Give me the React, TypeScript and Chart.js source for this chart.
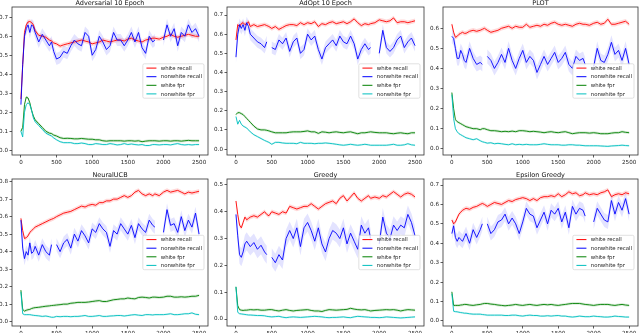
import React, { useEffect, useRef } from 'react';
import { Chart, registerables } from 'chart.js';
Chart.register(...registerables);

// ---------- data ----------
const STEPS = [0, 25, 50, 75, 100, 125, 150, 175, 200,
  250, 300, 350, 400, 430, 460,
  500, 550, 600, 650, 700, 750, 800, 850, 900, 950,
  1000, 1050, 1100, 1150, 1200, 1250, 1300, 1350, 1400, 1450,
  1500, 1550, 1600, 1650, 1700, 1750, 1800, 1850,
  1880, 1940,
  2000, 2050, 2100, 2150, 2200, 2250, 2300, 2350, 2400, 2450, 2500];

const TITLES = ['Adversarial 10 Epoch', 'AdOpt 10 Epoch', 'PLOT', 'NeuralUCB', 'Greedy', 'Epsilon Greedy'];
const LEGEND_LABELS = ['white recall', 'nonwhite recall', 'white fpr', 'nonwhite fpr'];
const X_TICKS = [0, 500, 1000, 1500, 2000, 2500];
const Y_TICKS_ADV = [0, 0.1, 0.2, 0.3, 0.4, 0.5, 0.6, 0.7];
const Y_TICKS_ADOPT = [0, 0.1, 0.2, 0.3, 0.4, 0.5, 0.6, 0.7];
const Y_TICKS_PLOT = [0, 0.1, 0.2, 0.3, 0.4, 0.5, 0.6];
const Y_TICKS_NUCB = [0, 0.1, 0.2, 0.3, 0.4, 0.5, 0.6, 0.7, 0.8];
const Y_TICKS_GREEDY = [0, 0.1, 0.2, 0.3, 0.4, 0.5];
const Y_TICKS_EPS = [0, 0.1, 0.2, 0.3, 0.4, 0.5, 0.6, 0.7];
const Y_MIN = [-0.025, -0.031, -0.031, -0.025, -0.026, -0.026];
const Y_MAX = [0.754, 0.742, 0.706, 0.815, 0.522, 0.731];

// Adversarial 10 Epoch
const ADV_WR = [0.27, 0.45, 0.62, 0.66, 0.675, 0.678, 0.672, 0.66, 0.63,
  0.605, 0.60, 0.595, 0.58, 0.575, 0.565,
  0.56, 0.548, 0.555, 0.56, 0.565, 0.57, 0.575, 0.58, 0.575, 0.57,
  0.56, 0.565, 0.57, 0.58, 0.575, 0.57, 0.575, 0.58, 0.58, 0.575,
  0.585, 0.59, 0.58, 0.575, 0.57, 0.58, 0.585, 0.59,
  0.59, 0.585,
  0.595, 0.60, 0.61, 0.60, 0.595, 0.60, 0.605, 0.61, 0.605, 0.60, 0.60];
const ADV_NR = [0.24, 0.45, 0.60, 0.64, 0.66, 0.62, 0.66, 0.65, 0.62,
  0.57, 0.61, 0.58, 0.55, 0.57, 0.52,
  0.48, 0.49, 0.52, 0.51, 0.55, 0.58, 0.56, 0.55, 0.62, 0.60,
  0.50, 0.53, 0.60, 0.57, 0.53, 0.55, 0.62, 0.58, 0.58, 0.55,
  0.58, 0.62, 0.57, 0.62, 0.54, 0.51, 0.60, 0.57,
  0.58, null,
  0.58, 0.66, 0.60, 0.64, 0.55, 0.62, 0.60, 0.66, 0.62, 0.64, 0.60];
const ADV_WF = [0.10, 0.12, 0.24, 0.28, 0.275, 0.25, 0.21, 0.18, 0.16,
  0.14, 0.12, 0.10, 0.09, 0.088, 0.08,
  0.075, 0.066, 0.062, 0.063, 0.062, 0.06, 0.06, 0.062, 0.06, 0.058,
  0.058, 0.055, 0.055, 0.05, 0.048, 0.05, 0.05, 0.05, 0.05, 0.048,
  0.05, 0.05, 0.048, 0.05, 0.045, 0.048, 0.05, 0.05,
  0.05, 0.048,
  0.05, 0.05, 0.048, 0.05, 0.05, 0.048, 0.05, 0.052, 0.05, 0.05, 0.05];
const ADV_NF = [0.10, 0.07, 0.20, 0.24, 0.25, 0.24, 0.21, 0.17, 0.15,
  0.13, 0.11, 0.09, 0.08, 0.075, 0.065,
  0.055, 0.045, 0.04, 0.04, 0.04, 0.035, 0.035, 0.038, 0.035, 0.03,
  0.03, 0.035, 0.033, 0.03, 0.03, 0.035, 0.032, 0.028, 0.03, 0.035,
  0.03, 0.033, 0.03, 0.028, 0.03, 0.025, 0.025, 0.03,
  0.03, 0.028,
  0.03, 0.03, 0.028, 0.032, 0.035, 0.03, 0.028, 0.03, 0.028, 0.03, 0.03];

// AdOpt 10 Epoch
const ADOPT_WR = [0.57, 0.65, 0.64, 0.655, 0.66, 0.65, 0.655, 0.665, 0.64,
  0.65, 0.64, 0.645, 0.65, 0.645, 0.64,
  0.63, 0.64, 0.625, 0.635, 0.645, 0.65, 0.65, 0.645, 0.66, 0.65,
  0.66, 0.655, 0.665, 0.64, 0.655, 0.65, 0.66, 0.665, 0.655, 0.66,
  0.665, 0.655, 0.665, 0.68, 0.66, 0.645, 0.655, 0.65,
  0.655, 0.66,
  0.675, 0.67, 0.665, 0.67, 0.685, 0.66, 0.665, 0.665, 0.66, 0.665, 0.67];
const ADOPT_NR = [0.48, 0.60, 0.65, 0.63, 0.65, 0.62, 0.66, 0.64, 0.60,
  0.58, 0.56, 0.55, 0.53, 0.56, null,
  0.53, 0.52, 0.57, 0.55, 0.58, 0.51, 0.56, 0.58, 0.50, 0.52,
  0.60, 0.57, 0.59, 0.52, 0.47, 0.53, 0.55, 0.57, 0.54, 0.59,
  0.56, 0.55, 0.59, 0.55, 0.47, 0.52, 0.55, 0.52,
  0.53, null,
  0.50, 0.62, 0.53, 0.51, 0.53, 0.57, 0.59, 0.53, 0.56, 0.58, 0.54];
const ADOPT_WF = [0.18, 0.19, 0.19, 0.185, 0.18, 0.17, 0.16, 0.15, 0.14,
  0.12, 0.105, 0.10, 0.10, 0.098, 0.095,
  0.09, 0.085, 0.085, 0.085, 0.085, 0.088, 0.09, 0.09, 0.09, 0.092,
  0.095, 0.09, 0.09, 0.082, 0.09, 0.088, 0.085, 0.088, 0.09, 0.087,
  0.085, 0.088, 0.09, 0.085, 0.08, 0.085, 0.085, 0.088,
  0.09, 0.087,
  0.085, 0.085, 0.085, 0.082, 0.08, 0.083, 0.085, 0.082, 0.08, 0.085, 0.085];
const ADOPT_NF = [0.17, 0.13, 0.15, 0.13, 0.12, 0.115, 0.11, 0.10, 0.09,
  0.075, 0.065, 0.055, 0.045, 0.04, 0.035,
  0.025, 0.035, 0.035, 0.032, 0.03, 0.03, 0.03, 0.028, 0.035, 0.03,
  0.03, 0.03, 0.028, 0.03, 0.03, 0.032, 0.03, 0.028, 0.025, 0.022,
  0.02, 0.022, 0.025, 0.022, 0.02, 0.022, 0.025, 0.022,
  0.02, 0.02,
  0.02, 0.02, 0.02, 0.022, 0.025, 0.02, 0.02, 0.022, 0.028, 0.022, 0.02];

// PLOT
const PLOT_WR = [0.62, 0.58, 0.555, 0.56, 0.57, 0.575, 0.58, 0.575, 0.575,
  0.585, 0.59, 0.585, 0.59, 0.595, 0.60,
  0.59, 0.58, 0.585, 0.59, 0.60, 0.605, 0.61, 0.60, 0.61, 0.605,
  0.605, 0.62, 0.605, 0.61, 0.615, 0.61, 0.62, 0.615, 0.625, 0.63,
  0.62, 0.615, 0.62, 0.615, 0.61, 0.62, 0.625, 0.62,
  0.62, 0.615,
  0.625, 0.63, 0.62, 0.625, 0.645, 0.62, 0.62, 0.625, 0.63, 0.635, 0.62];
const PLOT_NR = [0.56, 0.55, 0.50, 0.45, 0.45, 0.49, 0.47, 0.44, 0.43,
  0.50, 0.45, 0.42, 0.43, 0.42, null,
  0.46, 0.44, 0.40, 0.43, 0.47, 0.43, 0.50, 0.44, 0.40, 0.45,
  0.49, 0.43, 0.46, 0.44, 0.38, 0.42, 0.46, 0.42, 0.45, 0.48,
  0.43, 0.45, 0.48, 0.42, 0.40, 0.46, 0.44, 0.45,
  0.42, null,
  0.41, 0.50, 0.44, 0.43, 0.47, 0.53, 0.47, 0.49, 0.44, 0.50, 0.42];
const PLOT_WF = [0.28, 0.20, 0.145, 0.135, 0.13, 0.125, 0.12, 0.115, 0.11,
  0.105, 0.10, 0.10, 0.095, 0.10, 0.10,
  0.095, 0.09, 0.09, 0.088, 0.085, 0.087, 0.085, 0.088, 0.085, 0.09,
  0.09, 0.088, 0.085, 0.087, 0.085, 0.083, 0.08, 0.083, 0.085, 0.082,
  0.08, 0.083, 0.085, 0.08, 0.075, 0.078, 0.08, 0.08,
  0.08, 0.078,
  0.08, 0.078, 0.075, 0.075, 0.075, 0.078, 0.08, 0.08, 0.085, 0.082, 0.08];
const PLOT_NF = [0.27, 0.15, 0.10, 0.085, 0.075, 0.07, 0.065, 0.06, 0.055,
  0.05, 0.045, 0.05, 0.04, 0.035, 0.032,
  0.028, 0.03, 0.025, 0.027, 0.025, 0.022, 0.02, 0.025, 0.02, 0.022,
  0.02, 0.022, 0.02, 0.02, 0.02, 0.022, 0.025, 0.022, 0.02, 0.02,
  0.02, 0.018, 0.018, 0.02, 0.02, 0.018, 0.018, 0.016,
  0.015, 0.015,
  0.015, 0.015, 0.014, 0.013, 0.012, 0.014, 0.015, 0.016, 0.018, 0.016, 0.015];

// NeuralUCB
const NUCB_WR = [0.59, 0.52, 0.475, 0.48, 0.49, 0.51, 0.52, 0.53, 0.54,
  0.55, 0.56, 0.57, 0.58, 0.585, 0.59,
  0.60, 0.61, 0.62, 0.625, 0.63, 0.64, 0.65, 0.66, 0.655, 0.665,
  0.67, 0.665, 0.68, 0.68, 0.69, 0.69, 0.70, 0.70, 0.71, 0.72,
  0.71, 0.72, 0.74, 0.75, 0.73, 0.72, 0.73, 0.72,
  0.73, 0.72,
  0.74, 0.75, 0.74, 0.745, 0.75, 0.74, 0.73, 0.74, 0.735, 0.74, 0.745];
const NUCB_NR = [0.58, 0.42, 0.36, 0.40, 0.38, 0.45, 0.39, 0.40, 0.43,
  0.38, 0.44, 0.40, 0.38, 0.44, null,
  0.44, 0.40, 0.45, 0.47, 0.42, 0.50, 0.46, 0.52, 0.49, 0.45,
  0.53, 0.51, 0.56, 0.53, 0.51, 0.43, 0.52, 0.50, 0.56, 0.53,
  0.50, 0.55, 0.48, 0.56, 0.53, 0.51, 0.58, 0.55,
  0.54, null,
  0.51, 0.64, 0.55, 0.56, 0.51, 0.60, 0.52, 0.58, 0.54, 0.62, 0.50];
const NUCB_WF = [0.18, 0.07, 0.06, 0.065, 0.068, 0.07, 0.075, 0.078, 0.08,
  0.082, 0.085, 0.088, 0.09, 0.092, 0.093,
  0.095, 0.097, 0.10, 0.10, 0.105, 0.107, 0.11, 0.11, 0.11, 0.112,
  0.115, 0.118, 0.12, 0.115, 0.115, 0.12, 0.125, 0.127, 0.13, 0.13,
  0.135, 0.132, 0.13, 0.138, 0.14, 0.138, 0.135, 0.14,
  0.14, 0.138,
  0.14, 0.145, 0.145, 0.14, 0.14, 0.142, 0.14, 0.142, 0.145, 0.145, 0.15];
const NUCB_NF = [0.17, 0.045, 0.04, 0.04, 0.04, 0.04, 0.038, 0.036, 0.035,
  0.033, 0.03, 0.032, 0.028, 0.025, 0.025,
  0.03, 0.028, 0.03, 0.03, 0.028, 0.03, 0.03, 0.032, 0.035, 0.03,
  0.03, 0.032, 0.035, 0.03, 0.03, 0.032, 0.033, 0.035, 0.035, 0.032,
  0.035, 0.038, 0.04, 0.037, 0.035, 0.04, 0.04, 0.038,
  0.04, 0.04,
  0.04, 0.042, 0.045, 0.04, 0.04, 0.042, 0.045, 0.045, 0.05, 0.042, 0.04];

// Greedy
const GREEDY_WR = [0.44, 0.39, 0.35, 0.34, 0.36, 0.38, 0.37, 0.375, 0.38,
  0.385, 0.38, 0.39, 0.40, 0.39, 0.385,
  0.40, 0.395, 0.39, 0.40, 0.395, 0.42, 0.415, 0.41, 0.415, 0.42,
  0.42, 0.43, 0.42, 0.41, 0.42, 0.43, 0.435, 0.44, 0.43, 0.45,
  0.46, 0.44, 0.455, 0.47, 0.45, 0.44, 0.45, 0.46,
  0.45, 0.455,
  0.45, 0.46, 0.455, 0.465, 0.475, 0.465, 0.455, 0.465, 0.47, 0.465, 0.455];
const GREEDY_NR = [0.39, 0.31, 0.24, 0.23, 0.25, 0.28, 0.29, 0.28, 0.27,
  0.285, 0.26, 0.275, 0.25, 0.24, null,
  0.23, 0.21, 0.24, 0.22, 0.30, 0.33, 0.30, 0.34, 0.27, 0.34,
  0.36, 0.33, 0.29, 0.34, 0.28, 0.25, 0.30, 0.33, 0.32, 0.30,
  0.34, 0.28, 0.32, 0.29, 0.26, 0.35, 0.32, 0.34,
  0.30, null,
  0.28, 0.38, 0.32, 0.30, 0.35, 0.33, 0.35, 0.34, 0.39, 0.36, 0.31];
const GREEDY_WF = [0.12, 0.05, 0.035, 0.033, 0.032, 0.033, 0.033, 0.034, 0.035,
  0.034, 0.035, 0.033, 0.033, 0.034, 0.035,
  0.035, 0.032, 0.03, 0.033, 0.035, 0.032, 0.03, 0.032, 0.033, 0.034,
  0.035, 0.032, 0.03, 0.03, 0.028, 0.032, 0.035, 0.034, 0.033, 0.034,
  0.035, 0.036, 0.04, 0.037, 0.035, 0.034, 0.035, 0.032,
  0.03, 0.032,
  0.033, 0.034, 0.035, 0.034, 0.035, 0.033, 0.03, 0.033, 0.035, 0.034, 0.033];
const GREEDY_NF = [0.12, 0.025, 0.02, 0.019, 0.018, 0.017, 0.016, 0.015, 0.015,
  0.014, 0.013, 0.013, 0.012, 0.01, 0.009,
  0.008, 0.009, 0.01, 0.007, 0.005, 0.007, 0.008, 0.007, 0.006, 0.007,
  0.008, 0.009, 0.01, 0.009, 0.008, 0.006, 0.005, 0.006, 0.006, 0.007,
  0.008, 0.006, 0.005, 0.008, 0.01, 0.009, 0.008, 0.007,
  0.006, 0.006,
  0.005, 0.006, 0.008, 0.007, 0.006, 0.005, 0.004, 0.005, 0.006, 0.007, 0.008];

// Epsilon Greedy
const EPS_WR = [0.52, 0.50, 0.51, 0.53, 0.55, 0.56, 0.57, 0.575, 0.58,
  0.575, 0.585, 0.59, 0.60, 0.605, 0.60,
  0.59, 0.60, 0.61, 0.605, 0.60, 0.61, 0.62, 0.615, 0.625, 0.63,
  0.635, 0.63, 0.62, 0.63, 0.62, 0.635, 0.64, 0.64, 0.645, 0.64,
  0.655, 0.64, 0.65, 0.665, 0.655, 0.66, 0.645, 0.65,
  0.66, 0.65,
  0.655, 0.65, 0.66, 0.665, 0.675, 0.64, 0.65, 0.655, 0.65, 0.66, 0.655];
const EPS_NR = [0.45, 0.49, 0.43, 0.41, 0.43, 0.42, 0.41, 0.43, 0.45,
  0.40, 0.47, 0.43, 0.47, 0.50, null,
  0.50, 0.45, 0.47, 0.51, 0.52, 0.55, 0.50, 0.53, 0.50, 0.45,
  0.51, 0.58, 0.55, 0.54, 0.48, 0.52, 0.56, 0.50, 0.57, 0.55,
  0.58, 0.51, 0.56, 0.48, 0.59, 0.55, 0.58, 0.57,
  0.54, null,
  0.51, 0.58, 0.55, 0.52, 0.51, 0.62, 0.55, 0.61, 0.57, 0.63, 0.55];
const EPS_WF = [0.15, 0.08, 0.08, 0.08, 0.08, 0.082, 0.083, 0.085, 0.085,
  0.082, 0.08, 0.083, 0.085, 0.088, 0.09,
  0.09, 0.087, 0.085, 0.082, 0.08, 0.078, 0.08, 0.082, 0.085, 0.082,
  0.08, 0.083, 0.085, 0.082, 0.08, 0.083, 0.085, 0.083, 0.085, 0.082,
  0.08, 0.083, 0.085, 0.088, 0.09, 0.09, 0.09, 0.087,
  0.085, 0.083,
  0.08, 0.083, 0.085, 0.085, 0.085, 0.082, 0.08, 0.083, 0.085, 0.082, 0.08];
const EPS_NF = [0.14, 0.05, 0.048, 0.047, 0.045, 0.043, 0.042, 0.04, 0.04,
  0.037, 0.035, 0.035, 0.035, 0.033, 0.032,
  0.03, 0.03, 0.03, 0.03, 0.03, 0.028, 0.028, 0.03, 0.03, 0.027,
  0.025, 0.028, 0.03, 0.028, 0.028, 0.025, 0.025, 0.027, 0.025, 0.027,
  0.028, 0.025, 0.025, 0.022, 0.02, 0.022, 0.025, 0.023,
  0.022, 0.022,
  0.025, 0.023, 0.022, 0.02, 0.02, 0.022, 0.025, 0.023, 0.022, 0.02, 0.02];

// ---------- layout / style ----------
const FONT = '"DejaVu Sans", sans-serif';
const LINE_COLORS = ['rgb(255,0,0)', 'rgb(0,0,255)', 'rgb(0,128,0)', 'rgb(0,191,191)'];
const BAND_COLORS = ['rgba(255,0,0,0.15)', 'rgba(0,0,255,0.11)', 'rgba(0,128,0,0.15)', 'rgba(0,191,191,0.15)'];
// plot-area boxes [left, top, right, bottom] in page pixels
const BOXES = [
  [12, 7, 208, 155], [227, 7, 424, 155], [443, 7, 638, 155],
  [12, 179, 208, 326], [227, 179, 424, 326], [443, 179, 638, 326],
];
// half-height (px) of the shaded band drawn around each line
const BLUE_BAND_PX = [6, 6, 7, 6.5, 9, 7];
const OTHER_BAND_PX = [2.2, 0, 1.4, 1.0];
const Y_AXIS_W = 20;
const X_AXIS_H = 14;
const TOP_PAD = 10;
const RIGHT_PAD = 2;

const PANELS = [
  { title: TITLES[0], series: [ADV_WR, ADV_NR, ADV_WF, ADV_NF], yTicks: Y_TICKS_ADV },
  { title: TITLES[1], series: [ADOPT_WR, ADOPT_NR, ADOPT_WF, ADOPT_NF], yTicks: Y_TICKS_ADOPT },
  { title: TITLES[2], series: [PLOT_WR, PLOT_NR, PLOT_WF, PLOT_NF], yTicks: Y_TICKS_PLOT },
  { title: TITLES[3], series: [NUCB_WR, NUCB_NR, NUCB_WF, NUCB_NF], yTicks: Y_TICKS_NUCB },
  { title: TITLES[4], series: [GREEDY_WR, GREEDY_NR, GREEDY_WF, GREEDY_NF], yTicks: Y_TICKS_GREEDY },
  { title: TITLES[5], series: [EPS_WR, EPS_NR, EPS_WF, EPS_NF], yTicks: Y_TICKS_EPS },
];

// shaded band around each line (drawn under all lines, from the scaled points)
const bandPlugin = {
  id: 'mplBand',
  beforeDatasetsDraw(chart: any, _args: any, opts: any) {
    const { ctx, chartArea: a } = chart;
    ctx.save();
    ctx.beginPath();
    ctx.rect(a.left, a.top, a.right - a.left, a.bottom - a.top);
    ctx.clip();
    chart.data.datasets.forEach((_ds: any, k: number) => {
      const meta = chart.getDatasetMeta(k);
      const hh = k === 1 ? opts.blue : OTHER_BAND_PX[k];
      const pts = meta.data;
      const runs: any[][] = [];
      let cur: any[] = [];
      pts.forEach((p: any) => {
        if (p.skip || p.y == null || isNaN(p.y)) {
          if (cur.length) runs.push(cur);
          cur = [];
        } else cur.push(p);
      });
      if (cur.length) runs.push(cur);
      ctx.fillStyle = BAND_COLORS[k];
      runs.forEach((run) => {
        if (run.length < 2) return;
        ctx.beginPath();
        run.forEach((p: any, i: number) => {
          if (i === 0) ctx.moveTo(p.x, p.y - hh); else ctx.lineTo(p.x, p.y - hh);
        });
        for (let i = run.length - 1; i >= 0; i--) ctx.lineTo(run[i].x, run[i].y + hh);
        ctx.closePath();
        ctx.fill();
      });
    });
    ctx.restore();
  },
};

const decorPlugin = {
  id: 'mplDecor',
  afterDraw(chart: any, _args: any, opts: any) {
    const { ctx, chartArea: a } = chart;
    ctx.save();
    // frame
    ctx.strokeStyle = '#333';
    ctx.lineWidth = 0.8;
    ctx.strokeRect(a.left, a.top, a.right - a.left, a.bottom - a.top);
    // title
    ctx.fillStyle = '#111';
    ctx.font = `6.5px ${FONT}`;
    ctx.textAlign = 'center';
    ctx.textBaseline = 'alphabetic';
    ctx.fillText(opts.title, (a.left + a.right) / 2, a.top - 2.2);
    // legend (center right)
    ctx.font = `5.4px ${FONT}`;
    const tw = Math.max(...LEGEND_LABELS.map((t) => ctx.measureText(t).width));
    const rowH = 8.6;
    const w = 3.6 + 10 + 4.3 + tw + 2;
    const h = rowH * 4;
    const x = a.right - 4 - w;
    const y = (a.top + a.bottom) / 2 - h / 2;
    ctx.beginPath();
    if (ctx.roundRect) ctx.roundRect(x, y, w, h, 1.5); else ctx.rect(x, y, w, h);
    ctx.fillStyle = 'rgba(255,255,255,0.8)';
    ctx.fill();
    ctx.strokeStyle = '#cccccc';
    ctx.lineWidth = 0.6;
    ctx.stroke();
    ctx.textAlign = 'left';
    ctx.textBaseline = 'middle';
    LEGEND_LABELS.forEach((lab, i) => {
      const cy = y + rowH / 2 + i * rowH;
      ctx.beginPath();
      ctx.moveTo(x + 3.6, cy);
      ctx.lineTo(x + 13.6, cy);
      ctx.strokeStyle = LINE_COLORS[i];
      ctx.lineWidth = 1;
      ctx.stroke();
      ctx.fillStyle = '#222';
      ctx.fillText(lab, x + 17.9, cy + 0.3);
    });
    ctx.restore();
  },
};

function makeConfig(idx: number): any {
  const p = PANELS[idx];
  const datasets = p.series.map((vals, k) => ({
    label: LEGEND_LABELS[k],
    data: STEPS.map((x, i) => ({ x, y: vals[i] })),
    borderColor: LINE_COLORS[k], borderWidth: 0.9,
    pointRadius: 0, tension: 0, spanGaps: false, fill: false, order: 4 - k,
  }));
  const tickFont = { family: FONT, size: 5.6 };
  return {
    type: 'line',
    data: { datasets },
    plugins: [bandPlugin, decorPlugin],
    options: {
      responsive: false,
      animation: false,
      events: [],
      layout: { padding: { top: TOP_PAD, right: RIGHT_PAD, left: 0, bottom: 0 } },
      plugins: {
        legend: { display: false },
        tooltip: { enabled: false },
        title: { display: false },
        mplDecor: { title: p.title },
        mplBand: { blue: BLUE_BAND_PX[idx] },
      },
      scales: {
        x: {
          type: 'linear', min: -125, max: 2625,
          afterBuildTicks: (s: any) => { s.ticks = X_TICKS.map((v) => ({ value: v })); },
          afterFit: (s: any) => { s.height = X_AXIS_H; },
          ticks: { font: tickFont, color: '#222', padding: 1.5, maxRotation: 0, autoSkip: false,
            callback: (v: any) => String(v) },
          grid: { drawOnChartArea: false, drawTicks: true, tickLength: 2.5, color: '#333', lineWidth: 0.8 },
          border: { display: false },
        },
        y: {
          type: 'linear', min: Y_MIN[idx], max: Y_MAX[idx],
          afterBuildTicks: (s: any) => { s.ticks = p.yTicks.map((v) => ({ value: v })); },
          afterFit: (s: any) => { s.width = Y_AXIS_W; },
          ticks: { font: tickFont, color: '#222', padding: 1.5, autoSkip: false,
            callback: (v: any) => Number(v).toFixed(1) },
          grid: { drawOnChartArea: false, drawTicks: true, tickLength: 2.5, color: '#333', lineWidth: 0.8 },
          border: { display: false },
        },
      },
    },
  };
}

function Panel({ idx }: { idx: number }) {
  const ref = useRef<HTMLCanvasElement>(null);
  const [L, T, R, B] = BOXES[idx];
  const w = Y_AXIS_W + (R - L) + RIGHT_PAD;
  const h = TOP_PAD + (B - T) + X_AXIS_H;
  useEffect(() => {
    const chart = new Chart(ref.current as HTMLCanvasElement, makeConfig(idx));
    return () => chart.destroy();
  }, [idx]);
  return (
    <canvas
      ref={ref}
      width={w}
      height={h}
      style={{ position: 'absolute', left: L - Y_AXIS_W, top: T - TOP_PAD, width: w, height: h }}
    />
  );
}

export default function App() {
  return (
    <div style={{ position: 'fixed', left: 0, top: 0, width: 640, height: 333, background: '#fff', overflow: 'hidden' }}>
      {PANELS.map((_, i) => <Panel key={i} idx={i} />)}
    </div>
  );
}
